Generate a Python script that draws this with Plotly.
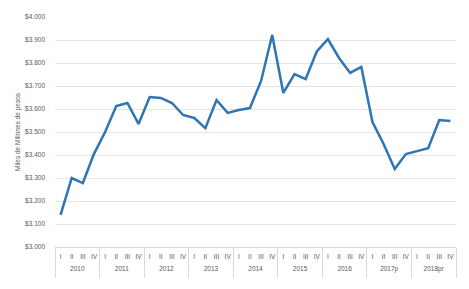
import plotly.graph_objects as go

years = ["2010", "2011", "2012", "2013", "2014", "2015", "2016", "2017p", "2018pr"]
quarters = ["I", "II", "III", "IV"]
values = [3140, 3300, 3278, 3405,
          3500, 3613, 3626, 3535,
          3652, 3648, 3626, 3574,
          3561, 3517, 3639, 3583,
          3596, 3604, 3722, 3922,
          3670, 3752, 3730, 3850,
          3904, 3822, 3757, 3783,
          3543, 3448, 3339, 3404,
          3417, 3430, 3552, 3548]
ytick_vals = [3000, 3100, 3200, 3300, 3400, 3500, 3600, 3700, 3800, 3900, 4000]
ytick_text = ["$3.000", "$3.100", "$3.200", "$3.300", "$3.400", "$3.500",
              "$3.600", "$3.700", "$3.800", "$3.900", "$4.000"]
y_title = "Miles de Millones de pesos"

nq = len(quarters)
n = len(years) * nq
x_idx = list(range(n))
q_text = [q for _ in years for q in quarters]
year_centers = [i * nq + (nq - 1) / 2 for i in range(len(years))]
xr = [-0.5, n - 0.5]
grey = "#595959"
line_grey = "#D9D9D9"

fig = go.Figure()
fig.add_trace(go.Scatter(x=x_idx, y=values, mode="lines",
                         line=dict(color="#2E75B6", width=2.5), hoverinfo="y"))
fig.add_trace(go.Scatter(x=[], y=[], xaxis="x2", showlegend=False, hoverinfo="skip"))

fig.update_layout(
    width=461, height=281,
    margin=dict(l=47, r=13, t=9, b=42),
    paper_bgcolor="white", plot_bgcolor="white",
    showlegend=False,
    font=dict(family="Liberation Sans", size=7, color=grey),
    xaxis=dict(range=xr, automargin=False, showgrid=False, zeroline=False,
               showline=True, linecolor=line_grey, linewidth=1,
               tickvals=x_idx, ticktext=q_text, ticks="", tickangle=0,
               ticklabelstandoff=3, tickfont=dict(size=6.5, color=grey),
               minor=dict(tick0=-0.5, dtick=nq, ticks="outside", ticklen=30,
                          tickcolor=line_grey, tickwidth=1, showgrid=False)),
    xaxis2=dict(range=xr, overlaying="x", side="bottom", anchor="y",
                automargin=False, showgrid=False, zeroline=False, showline=False,
                tickvals=year_centers, ticktext=years, ticks="", tickangle=0,
                ticklabelstandoff=16, tickfont=dict(size=6.5, color=grey)),
    yaxis=dict(range=[3000, 4000], tickvals=ytick_vals, ticktext=ytick_text,
               automargin=False, showgrid=True, gridcolor="#E4E4E4", gridwidth=1,
               zeroline=False, showline=False, tickfont=dict(size=6.5, color=grey),
               ticklabelstandoff=9,
               title=dict(text=y_title, font=dict(size=6.5, color=grey), standoff=3)),
)

fig.write_html("out.html")
